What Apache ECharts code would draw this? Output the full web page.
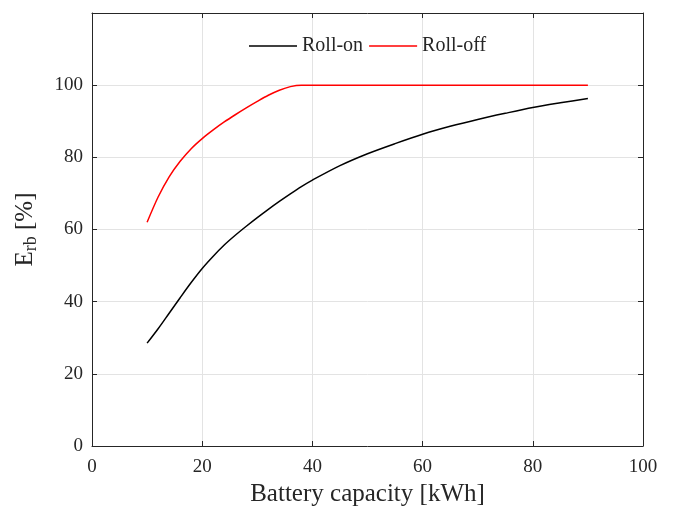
<!DOCTYPE html>
<html>
<head>
<meta charset="utf-8">
<script src="https://cdn.jsdelivr.net/npm/echarts@6/dist/echarts.min.js"></script>
<style>
  html, body {margin: 0; padding: 0; background: #fff;}
  #chart {width: 674px; height: 506px;}
</style>
</head>
<body>
<div id="chart"></div>
<script>
const capacity = [10, 12, 14, 16, 18, 20, 22, 24, 26, 28, 30, 32, 34, 36, 38, 40, 45, 50, 55, 60, 65, 70, 75, 80, 85, 90];
const rollOn = [28.5, 32.5, 36.8, 41.1, 45.3, 49.2, 52.6, 55.7, 58.4, 60.9, 63.3, 65.6, 67.8, 69.9, 71.9, 73.7, 77.7, 81.0, 83.8, 86.4, 88.6, 90.5, 92.2, 93.8, 95.1, 96.3];
const rollOff = [62.0, 69.0, 74.6, 78.9, 82.4, 85.2, 87.6, 89.8, 91.8, 93.7, 95.5, 97.2, 98.6, 99.6, 100, 100, 100, 100, 100, 100, 100, 100, 100, 100, 100, 100];
const seriesNames = ['Roll-on', 'Roll-off'];
const xTicks = [0, 20, 40, 60, 80, 100];
const yTicks = [0, 20, 40, 60, 80, 100];

const font = '"Liberation Serif", "DejaVu Serif", serif';
const axisColor = '#262626';
const gridColor = '#e3e3e3';

const chart = echarts.init(document.getElementById('chart'), null, {renderer: 'canvas'});

// top and right axes only close the box: line plus inner ticks
const frameAxis = {
  axisLine: {show: true, onZero: false, lineStyle: {color: axisColor, width: 1}},
  axisTick: {show: true, inside: true, length: 5, lineStyle: {color: axisColor}},
  axisLabel: {show: false},
  splitLine: {show: false},
};

chart.setOption({
  animation: false,
  textStyle: {fontFamily: font},
  grid: {left: 92, right: 31, top: 13, bottom: 60, outerBoundsMode: 'none', containLabel: false},
  legend: {
    top: 31,
    left: 244,
    icon: 'rect',
    itemWidth: 48,
    itemHeight: 1.5,
    itemGap: 6,
    textStyle: {fontFamily: font, fontSize: 20, color: axisColor},
    data: seriesNames,
  },
  xAxis: [{
    type: 'value',
    min: 0,
    max: 100,
    interval: 20,
    name: 'Battery capacity [kWh]',
    nameLocation: 'middle',
    nameGap: 34,
    nameTextStyle: {fontFamily: font, fontSize: 25, color: axisColor},
    axisLine: {onZero: false, lineStyle: {color: axisColor}},
    axisTick: {inside: true, length: 5, lineStyle: {color: axisColor}},
    axisLabel: {
      fontFamily: font, fontSize: 19, color: axisColor, margin: 12,
      formatter: v => xTicks.includes(v) ? String(v) : '',
    },
    splitLine: {show: true, lineStyle: {color: gridColor}},
  }, {
    type: 'value', position: 'top', min: 0, max: 100, interval: 20, ...frameAxis,
  }],
  yAxis: [{
    type: 'value',
    min: 0,
    max: 120,
    interval: 20,
    name: '{a|E}{b|rb}{a| [%]}',
    nameLocation: 'middle',
    nameGap: 52,
    nameTextStyle: {
      rich: {
        a: {fontFamily: font, fontSize: 25, color: axisColor},
        b: {fontFamily: font, fontSize: 18, color: axisColor, padding: [12, 0, 0, 0]},
      },
    },
    axisLine: {show: true, onZero: false, lineStyle: {color: axisColor}},
    axisTick: {show: true, inside: true, length: 5, lineStyle: {color: axisColor}},
    axisLabel: {
      fontFamily: font, fontSize: 19, color: axisColor, margin: 9,
      formatter: v => yTicks.includes(v) ? String(v) : '',
    },
    splitLine: {show: true, lineStyle: {color: gridColor}},
  }, {
    type: 'value', position: 'right', min: 0, max: 120, interval: 20, ...frameAxis,
  }],
  series: [{
    name: seriesNames[0],
    type: 'line',
    data: capacity.map((x, i) => [x, rollOn[i]]),
    showSymbol: false,
    smooth: 0.3,
    color: '#000000',
    lineStyle: {width: 1.5},
  }, {
    name: seriesNames[1],
    type: 'line',
    data: capacity.map((x, i) => [x, rollOff[i]]),
    showSymbol: false,
    smooth: 0.3,
    color: '#ff0000',
    lineStyle: {width: 1.5},
  }],
});
</script>
</body>
</html>
